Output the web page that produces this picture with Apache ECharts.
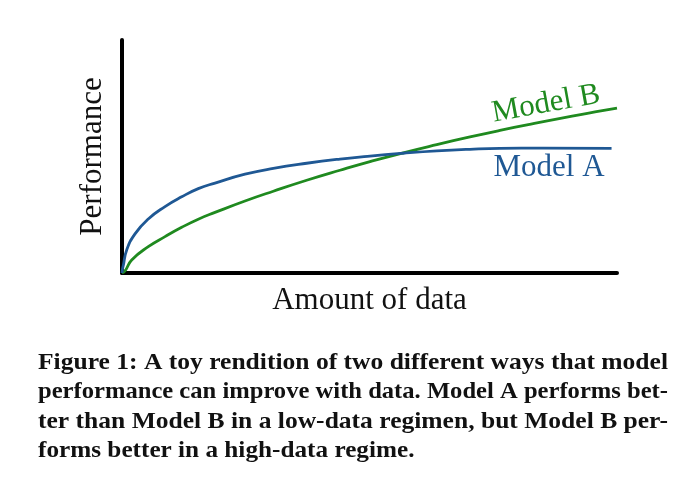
<!DOCTYPE html>
<html>
<head>
<meta charset="utf-8">
<script src="https://cdn.jsdelivr.net/npm/echarts@6/dist/echarts.min.js"></script>
<style>
  html, body { margin: 0; padding: 0; background: #fff; }
  #chart { width: 677px; height: 491px; }
</style>
</head>
<body>
<div id="chart"></div>
<script>
// amount of data (0-100) and performance (0-100)
const modelAX = [0, 0.08, 0.26, 0.95, 2.63, 5.31, 8.69, 12.06, 15.41, 18.79, 24.85, 30.57, 37.31, 44.04, 50.1, 56.83, 63.58, 70.3, 76.36, 85, 98.9];
const modelAY = [0, 1.5, 3.2, 9.9, 16.8, 23.2, 28.5, 32.7, 36.2, 38.6, 42.4, 44.9, 47.1, 48.9, 50.2, 51.4, 52.4, 53.1, 53.5, 53.6, 53.5];
const modelBX = [0, 0.61, 1.96, 5.31, 8.69, 12.06, 15.41, 18.79, 24.85, 30.57, 37.31, 44.04, 50.1, 56.83, 63.58, 70.3, 76.36, 82.08, 88.83, 95.56, 100];
const modelBY = [0, 0.9, 5.6, 11.3, 15.6, 19.6, 23.1, 26.0, 30.9, 35.1, 39.8, 44.1, 47.8, 51.6, 55.1, 58.4, 61.2, 63.7, 66.5, 69.1, 70.8];
const seriesNames = ['Model A', 'Model B'];
const captionLines = [
  'Figure 1: A toy rendition of two different ways that model',
  'performance can improve with data. Model A performs bet-',
  'ter than Model B in a low-data regimen, but Model B per-',
  'forms better in a high-data regime.'
];

const serif = "'Liberation Serif', 'DejaVu Serif', serif";
const blue = '#1f5894';
const green = '#1f8a1f';

const zip = (xs, ys) => xs.map((x, i) => [x, ys[i]]);

// caption is justified in the figure: stretch full lines to the column width
const capFont = "bold 23px 'Liberation Serif'";
const colWidth = 630;
const ctx = document.createElement('canvas').getContext('2d');
ctx.font = capFont;
const scales = captionLines.map(t => colWidth / ctx.measureText(t).width);
scales[3] = (scales[0] + scales[1] + scales[2]) / 3;

const chart = echarts.init(document.getElementById('chart'));
chart.setOption({
  backgroundColor: '#fff',
  animation: false,
  grid: { left: 122, right: 60, top: 40, bottom: 218 },
  xAxis: {
    type: 'value', min: 0, max: 100,
    name: 'Amount of data', nameLocation: 'middle', nameGap: 12,
    nameTextStyle: { fontFamily: serif, fontSize: 31, color: '#111' },
    axisLine: { lineStyle: { color: '#000', width: 4 } },
    axisTick: { show: false }, axisLabel: { show: false }, splitLine: { show: false }
  },
  yAxis: {
    type: 'value', min: 0, max: 100,
    name: 'Performance', nameLocation: 'middle', nameGap: 14,
    nameTextStyle: { fontFamily: serif, fontSize: 31, color: '#111' },
    axisLine: { show: true, lineStyle: { color: '#000', width: 4 } },
    axisTick: { show: false }, axisLabel: { show: false }, splitLine: { show: false }
  },
  series: [
    {
      name: seriesNames[0], type: 'line', smooth: 0.5, symbol: 'none',
      data: zip(modelAX, modelAY),
      lineStyle: { color: blue, width: 2.8 }, z: 3
    },
    {
      name: seriesNames[1], type: 'line', smooth: 0.5, symbol: 'none',
      data: zip(modelBX, modelBY),
      lineStyle: { color: green, width: 2.8 }, z: 2
    }
  ],
  graphic: [
    {
      type: 'text', x: 546, y: 104, rotation: 0.18,
      style: { text: seriesNames[1], fontFamily: serif, fontSize: 31, fill: green, align: 'center', verticalAlign: 'middle' }
    },
    {
      type: 'text', x: 549, y: 168,
      style: { text: seriesNames[0], fontFamily: serif, fontSize: 31, fill: blue, align: 'center', verticalAlign: 'middle' }
    }
  ].concat(captionLines.map((t, i) => ({
    type: 'text', x: 38, y: 363 + i * 29.3, scaleX: scales[i],
    style: { text: t, font: capFont, fill: '#111', verticalAlign: 'middle' }
  })))
});
</script>
</body>
</html>
